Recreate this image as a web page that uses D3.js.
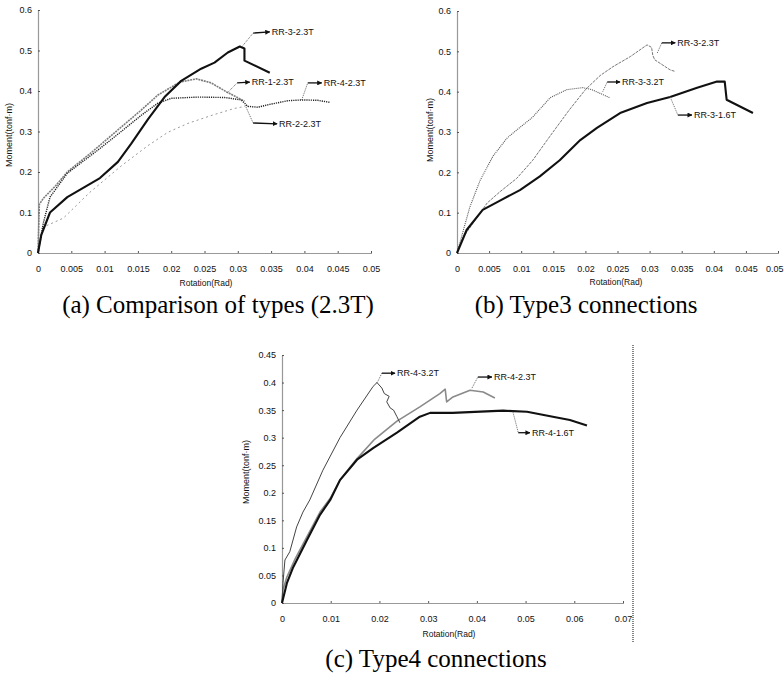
<!DOCTYPE html>
<html>
<head>
<meta charset="utf-8">
<script src="https://cdn.jsdelivr.net/npm/d3@7/dist/d3.min.js"></script>
<style>
  body { margin: 0; background: #fff; }
</style>
</head>
<body>
<script>
// ---- data (rotation in rad, moment in tonf·m) ----

// (a) comparison of types, 2.3T
const rr3_23a = [[0,0],[0.0005,0.045],[0.0018,0.1],[0.0044,0.138],[0.0093,0.185],[0.012,0.225],[0.014,0.27],[0.0165,0.33],[0.019,0.385],[0.0215,0.425],[0.0245,0.455],[0.0265,0.47],[0.0285,0.495],[0.0303,0.51],[0.031,0.505],[0.031,0.475],[0.0348,0.445]];
const rr1_23a = [[0,0],[0.0002,0.12],[0.0008,0.135],[0.0026,0.165],[0.0044,0.2],[0.0083,0.252],[0.011,0.29],[0.0135,0.325],[0.0153,0.35],[0.018,0.39],[0.0213,0.422],[0.0238,0.43],[0.026,0.42],[0.0284,0.397],[0.031,0.375]];
const rr4_23a = [[0,0],[0.0008,0.074],[0.0018,0.138],[0.0044,0.197],[0.0093,0.258],[0.0125,0.3],[0.0155,0.34],[0.018,0.37],[0.02,0.382],[0.024,0.385],[0.028,0.384],[0.0305,0.378],[0.0315,0.362],[0.033,0.36],[0.0348,0.367],[0.0375,0.376],[0.0397,0.378],[0.042,0.377],[0.0438,0.372]];
const rr2_23a = [[0,0],[0.0008,0.064],[0.0038,0.086],[0.0078,0.15],[0.0125,0.215],[0.0165,0.265],[0.0195,0.298],[0.0225,0.32],[0.0263,0.341],[0.0295,0.357],[0.0311,0.362]];

// (b) type3 connections
const rr3_32b = [[0,0],[0.001,0.057],[0.002,0.114],[0.0036,0.18],[0.0056,0.24],[0.0078,0.285],[0.0093,0.305],[0.0118,0.337],[0.0145,0.385],[0.0171,0.405],[0.0196,0.41],[0.021,0.405],[0.0238,0.385]];
const rr3_23b = [[0,0],[0.001,0.04],[0.0047,0.124],[0.0067,0.152],[0.0093,0.185],[0.0118,0.23],[0.0145,0.29],[0.0175,0.355],[0.02,0.405],[0.0223,0.44],[0.0243,0.462],[0.027,0.487],[0.0296,0.516],[0.0303,0.51],[0.0305,0.49],[0.0308,0.479],[0.0332,0.454],[0.034,0.45]];
const rr3_16b = [[0,0],[0.0015,0.057],[0.004,0.107],[0.0067,0.13],[0.0098,0.156],[0.0129,0.19],[0.016,0.23],[0.0192,0.28],[0.0218,0.31],[0.0254,0.347],[0.0296,0.372],[0.0332,0.387],[0.0374,0.41],[0.0405,0.425],[0.0417,0.425],[0.042,0.38],[0.043,0.372],[0.0461,0.347]];

// (c) type4 connections
const rr4_32c = [[0,0],[0.0002,0.036],[0.0006,0.078],[0.0016,0.093],[0.003,0.138],[0.0043,0.165],[0.0057,0.187],[0.0084,0.241],[0.0119,0.3],[0.0154,0.35],[0.0187,0.393],[0.0195,0.4],[0.0205,0.39],[0.021,0.38],[0.022,0.375],[0.0215,0.365],[0.0222,0.354],[0.0229,0.35],[0.0236,0.338],[0.0242,0.327]];
const rr4_23c = [[0,0],[0.0002,0.024],[0.001,0.047],[0.0027,0.08],[0.0051,0.12],[0.0078,0.165],[0.0099,0.19],[0.0119,0.223],[0.0154,0.262],[0.019,0.297],[0.0236,0.33],[0.0283,0.356],[0.0324,0.38],[0.0335,0.388],[0.0338,0.365],[0.0351,0.374],[0.0386,0.386],[0.0413,0.383],[0.0437,0.372]];
const rr4_16c = [[0,0],[0.001,0.036],[0.0023,0.065],[0.0051,0.114],[0.0078,0.16],[0.0099,0.187],[0.0119,0.223],[0.0154,0.26],[0.0187,0.281],[0.0236,0.309],[0.0283,0.338],[0.0304,0.345],[0.035,0.345],[0.0454,0.349],[0.0503,0.347],[0.0556,0.338],[0.0591,0.332],[0.0626,0.322]];

// tick labels
const xTicksAB = [0, 0.005, 0.01, 0.015, 0.02, 0.025, 0.03, 0.035, 0.04, 0.045, 0.05];
const yTicksAB = [0, 0.1, 0.2, 0.3, 0.4, 0.5, 0.6];
const xTicksC = [0, 0.01, 0.02, 0.03, 0.04, 0.05, 0.06, 0.07];
const yTicksC = [0, 0.05, 0.1, 0.15, 0.2, 0.25, 0.3, 0.35, 0.4, 0.45];

// series names and label leaders: [point on curve, elbow, arrow tip] in data units
const namesA = ["RR-3-2.3T", "RR-1-2.3T", "RR-4-2.3T", "RR-2-2.3T"];
const leadersA = [[[0.0306,0.509],[0.0323,0.543],[0.0348,0.546]], [[0.0284,0.395],[0.0299,0.42],[0.0318,0.422]], [[0.0396,0.378],[0.0405,0.42],[0.0426,0.42]], [[0.0311,0.365],[0.0323,0.321],[0.0359,0.319]]];
const namesB = ["RR-3-3.2T", "RR-3-2.3T", "RR-3-1.6T"];
const leadersB = [[[0.0227,0.4],[0.0234,0.424],[0.0254,0.424]], [[0.0312,0.496],[0.0319,0.521],[0.034,0.521]], [[0.0332,0.387],[0.0344,0.342],[0.0366,0.342]]];
const namesC = ["RR-4-3.2T", "RR-4-2.3T", "RR-4-1.6T"];
const leadersC = [[[0.0195,0.399],[0.0205,0.417],[0.0232,0.417]], [[0.039,0.39],[0.0402,0.41],[0.0431,0.41]], [[0.0474,0.347],[0.0485,0.309],[0.0509,0.309]]];

const captions = ["(a) Comparison of types (2.3T)", "(b) Type3 connections", "(c) Type4 connections"];

// line looks
const solidThick = {stroke: "#111", width: 2.1, dash: null};
const dotBlack = {stroke: "#222", width: 1.4, dash: "1.2,1"};
const grayDots = {stroke: "#7d7d7d", width: 1.6, dash: "2,0.8"};
const grayLine = {stroke: "#8a8a8a", width: 1.6, dash: null};
const lightDash = {stroke: "#9a9a9a", width: 1, dash: "2,3"};
const dotGray = {stroke: "#555", width: 1.1, dash: "1,1"};
const thinGray = {stroke: "#777", width: 1, dash: "3,1"};
const thinDark = {stroke: "#444", width: 1, dash: null};

const svg = d3.select("body")
  .append("svg")
  .attr("width", 784)
  .attr("height", 675)
  .style("background-color", "#fff");

svg.append("defs").append("marker")
  .attr("id", "arrow")
  .attr("viewBox", "0 0 10 10")
  .attr("refX", 9)
  .attr("refY", 5)
  .attr("markerWidth", 5)
  .attr("markerHeight", 5)
  .attr("markerUnits", "userSpaceOnUse")
  .attr("orient", "auto")
  .append("path")
  .attr("d", "M0,0 L10,5 L0,10 z")
  .attr("fill", "#111");

function drawPanel(p) {
  const xScale = d3.scaleLinear().domain(p.xDomain).range(p.xRange);
  const yScale = d3.scaleLinear().domain(p.yDomain).range(p.yRange);
  const g = svg.append("g");

  // x axis
  const xAxisGroup = g.append("g")
    .attr("transform", `translate(0,${p.yRange[0]})`)
    .call(d3.axisBottom(xScale).tickValues(p.xTicks).tickSizeInner(-2).tickSizeOuter(0)
      .tickPadding(13).tickFormat(d => String(d)));

  // y axis
  const yAxisGroup = g.append("g")
    .attr("transform", `translate(${p.xRange[0]},0)`)
    .call(d3.axisLeft(yScale).tickValues(p.yTicks).tickSizeInner(-2).tickSizeOuter(0)
      .tickPadding(6).tickFormat(d => String(d)));

  [xAxisGroup, yAxisGroup].forEach(ax => {
    ax.select(".domain")
      .attr("stroke", "#333")
      .attr("stroke-width", 1.2)
      .attr("stroke-dasharray", "1,1");
    ax.selectAll(".tick line")
      .attr("stroke", "#555");
    ax.selectAll(".tick text")
      .attr("fill", "#111")
      .attr("font-family", "Liberation Sans")
      .attr("font-size", 9);
  });

  // the last x label of (b) sits at the page edge
  if (p.lastLabelEnd) {
    xAxisGroup.select(".tick:last-of-type text")
      .attr("text-anchor", "end")
      .attr("x", 5);
  }

  // axis titles
  g.append("text")
    .text("Rotation(Rad)")
    .attr("x", p.xTitle[0])
    .attr("y", p.xTitle[1])
    .attr("text-anchor", "middle")
    .attr("font-family", "Liberation Sans")
    .attr("font-size", 8.5)
    .attr("fill", "#111");

  g.append("text")
    .text("Moment(tonf·m)")
    .attr("transform", `translate(${p.yTitle[0]},${p.yTitle[1]}) rotate(-90)`)
    .attr("text-anchor", "middle")
    .attr("font-family", "Liberation Sans")
    .attr("font-size", 9)
    .attr("fill", "#111");

  // curves
  const lineGenerator = d3.line()
    .x(d => xScale(d[0]))
    .y(d => yScale(d[1]));

  p.series.forEach(s => {
    g.append("path")
      .datum(s.data)
      .attr("d", lineGenerator)
      .attr("fill", "none")
      .attr("stroke", s.look.stroke)
      .attr("stroke-width", s.look.width)
      .attr("stroke-dasharray", s.look.dash)
      .attr("stroke-linejoin", "round");
  });

  // label leaders with arrows
  p.names.forEach((name, i) => {
    const [a, e, t] = p.leaders[i];
    g.append("line")
      .attr("x1", xScale(a[0])).attr("y1", yScale(a[1]))
      .attr("x2", xScale(e[0])).attr("y2", yScale(e[1]))
      .attr("stroke", "#666")
      .attr("stroke-width", 1)
      .attr("stroke-dasharray", "1,1");
    g.append("line")
      .attr("x1", xScale(e[0])).attr("y1", yScale(e[1]))
      .attr("x2", xScale(t[0])).attr("y2", yScale(t[1]))
      .attr("stroke", "#111")
      .attr("stroke-width", 1.3)
      .attr("marker-end", "url(#arrow)");
    g.append("text")
      .text(name)
      .attr("x", xScale(t[0]) + 2)
      .attr("y", yScale(t[1]))
      .attr("dy", "0.35em")
      .attr("font-family", "Liberation Sans")
      .attr("font-size", 9)
      .attr("fill", "#111");
  });

  // caption
  svg.append("text")
    .text(p.caption)
    .attr("x", p.captionPos[0])
    .attr("y", p.captionPos[1])
    .attr("text-anchor", "middle")
    .attr("font-family", "Liberation Serif")
    .attr("font-size", 25)
    .attr("fill", "#000");

  return {xScale, yScale};
}

drawPanel({
  xDomain: [0, 0.05], xRange: [38, 371], yDomain: [0, 0.6], yRange: [253, 10],
  xTicks: xTicksAB, yTicks: yTicksAB,
  xTitle: [206, 286], yTitle: [12, 135],
  series: [
    {data: rr2_23a, look: lightDash},
    {data: rr1_23a, look: grayDots},
    {data: rr4_23a, look: dotBlack},
    {data: rr3_23a, look: solidThick}
  ],
  names: namesA, leaders: leadersA,
  caption: captions[0], captionPos: [218, 313]
});

drawPanel({
  xDomain: [0, 0.05], xRange: [457, 778], yDomain: [0, 0.6], yRange: [253, 11],
  xTicks: xTicksAB, yTicks: yTicksAB,
  xTitle: [616, 285], yTitle: [433, 130],
  series: [
    {data: rr3_23b, look: thinGray},
    {data: rr3_32b, look: dotGray},
    {data: rr3_16b, look: solidThick}
  ],
  names: namesB, leaders: leadersB,
  lastLabelEnd: true,
  caption: captions[1], captionPos: [586, 313]
});

drawPanel({
  xDomain: [0, 0.07], xRange: [282, 623], yDomain: [0, 0.45], yRange: [603, 355],
  xTicks: xTicksC, yTicks: yTicksC,
  xTitle: [449, 637], yTitle: [249, 472],
  series: [
    {data: rr4_23c, look: grayLine},
    {data: rr4_32c, look: thinDark},
    {data: rr4_16c, look: solidThick}
  ],
  names: namesC, leaders: leadersC,
  caption: captions[2], captionPos: [436, 667]
});

// right frame edge of panel (c)
svg.append("line")
  .attr("x1", 633).attr("y1", 345)
  .attr("x2", 633).attr("y2", 642)
  .attr("stroke", "#333")
  .attr("stroke-width", 1.2)
  .attr("stroke-dasharray", "1,1");
</script>
</body>
</html>
